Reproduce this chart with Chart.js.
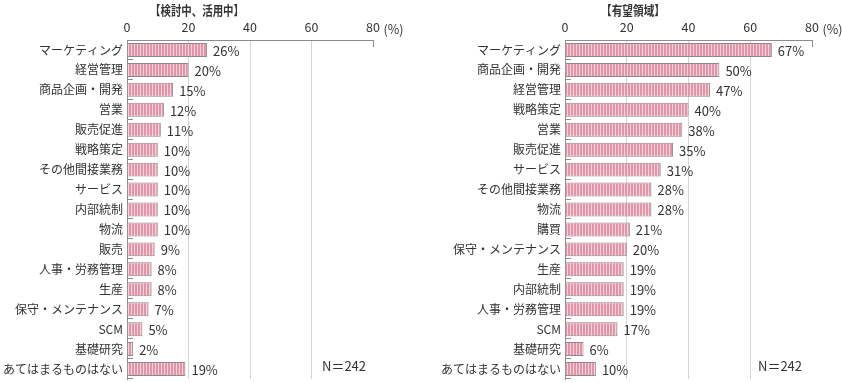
<!DOCTYPE html>
<html><head><meta charset="utf-8">
<script src="https://cdn.jsdelivr.net/npm/chart.js@4/dist/chart.umd.min.js"></script>
<style>
html,body{margin:0;padding:0;background:#fff;}
#wrap{position:relative;width:842px;height:383px;overflow:hidden;}
canvas{position:absolute;top:0;}
</style></head><body>
<div id="wrap">
<canvas id="leftChart" width="421" height="383" style="left:0"></canvas>
<canvas id="rightChart" width="421" height="383" style="left:421px"></canvas>
</div>
<script>
const leftTitle = '【検討中、活用中】';
const leftCategories = ['マーケティング','経営管理','商品企画・開発','営業','販売促進','戦略策定','その他間接業務','サービス','内部統制','物流','販売','人事・労務管理','生産','保守・メンテナンス','SCM','基礎研究','あてはまるものはない'];
const leftValues = [26,20,15,12,11,10,10,10,10,10,9,8,8,7,5,2,19];

const rightTitle = '【有望領域】';
const rightCategories = ['マーケティング','商品企画・開発','経営管理','戦略策定','営業','販売促進','サービス','その他間接業務','物流','購買','保守・メンテナンス','生産','内部統制','人事・労務管理','SCM','基礎研究','あてはまるものはない'];
const rightValues = [67,50,47,40,38,35,31,28,28,21,20,19,19,19,17,6,10];

const xTickValues = [0,20,40,60,80];
const unitLabel = '(%)';
const sampleNote = 'N＝242';

const FONT = '"Noto Sans CJK JP", "Noto Sans", sans-serif';
const TXT = '#333333';
const AXIS = '#8c8c8c';
const GRID = '#d4d4d4';

function makePattern(){
  const c = document.createElement('canvas');
  c.width = 3; c.height = 4;
  const g = c.getContext('2d');
  g.fillStyle = '#f8d6de'; g.fillRect(0,0,3,4);
  g.fillStyle = '#e493a8'; g.fillRect(0,0,2,4);
  return g.createPattern(c,'repeat');
}

function decorPlugin(title, titleX, titleW, noteX){
  return {
    id:'decor',
    afterDatasetsDraw(chart){
      const ctx = chart.ctx, xs = chart.scales.x, ys = chart.scales.y, ca = chart.chartArea;
      ctx.save();
      ctx.strokeStyle = AXIS; ctx.lineWidth = 1;
      const n = chart.data.labels.length;
      for(let i=1;i<=n;i++){
        const y = Math.round(ys.getPixelForValue(i-0.5))-0.5;
        ctx.beginPath(); ctx.moveTo(ca.left, y); ctx.lineTo(ca.left+6, y); ctx.stroke();
      }
      const xMax = Math.round(xs.getPixelForValue(xTickValues[xTickValues.length-1]))+0.5;
      ctx.beginPath(); ctx.moveTo(xMax, ca.top); ctx.lineTo(xMax, ca.top+7); ctx.stroke();
      ctx.fillStyle = TXT;
      ctx.font = '13px ' + FONT;
      ctx.textBaseline = 'middle'; ctx.textAlign = 'left';
      const meta = chart.getDatasetMeta(0);
      const vals = chart.data.datasets[0].data;
      meta.data.forEach((bar,i)=>{ ctx.fillText(vals[i]+'%', bar.x+6, bar.y+1); });
      ctx.font = '12.5px ' + FONT;
      ctx.fillText(unitLabel, xMax+10, 29);
      ctx.font = 'bold 13px ' + FONT;
      ctx.textAlign = 'center';
      ctx.fillText(title, titleX, 10, titleW);
      ctx.font = '13px ' + FONT;
      ctx.textAlign = 'left';
      ctx.fillText(sampleNote, noteX, 366);
      ctx.restore();
    }
  };
}

function build(id, cats, vals, title, yWidth, padRight, titleX, titleW, noteX){
  const pattern = makePattern();
  return new Chart(document.getElementById(id), {
    type:'bar',
    data:{ labels:cats, datasets:[{ data:vals, backgroundColor:pattern, borderColor:'#8a8a8a', borderWidth:1, barPercentage:0.7, categoryPercentage:1.0 }]},
    options:{
      indexAxis:'y', responsive:false, animation:false,
      layout:{ padding:{ left:0, right:padRight, top:0, bottom:4 } },
      plugins:{ legend:{display:false}, tooltip:{enabled:false}, title:{display:false} },
      scales:{
        x:{
          position:'top', min:0, max:80,
          afterFit(s){ s.height = 40; s.paddingLeft = 0; s.paddingRight = 0; },
          afterBuildTicks(s){ s.ticks = xTickValues.map(v=>({value:v})); },
          ticks:{ color:TXT, font:{family:FONT, size:12.5}, padding:5, maxRotation:0 },
          grid:{ drawTicks:false, color:(c)=> (c.tick && (c.tick.value===0 || c.tick.value===80)) ? 'rgba(0,0,0,0)' : GRID },
          border:{ display:true, color:AXIS, width:1 }
        },
        y:{
          afterFit(s){ s.width = yWidth; s.paddingTop = 0; s.paddingBottom = 0; },
          ticks:{ color:TXT, font:{family:FONT, size:12}, padding:4, autoSkip:false },
          grid:{ display:false, drawTicks:false },
          border:{ display:true, color:AXIS, width:1 }
        }
      }
    },
    plugins:[decorPlugin(title, titleX, titleW, noteX)]
  });
}

build('leftChart', leftCategories, leftValues, leftTitle, 127, 48, 197, 94, 322);
build('rightChart', rightCategories, rightValues, rightTitle, 144, 30, 212, 64, 337);
</script>
</body></html>
